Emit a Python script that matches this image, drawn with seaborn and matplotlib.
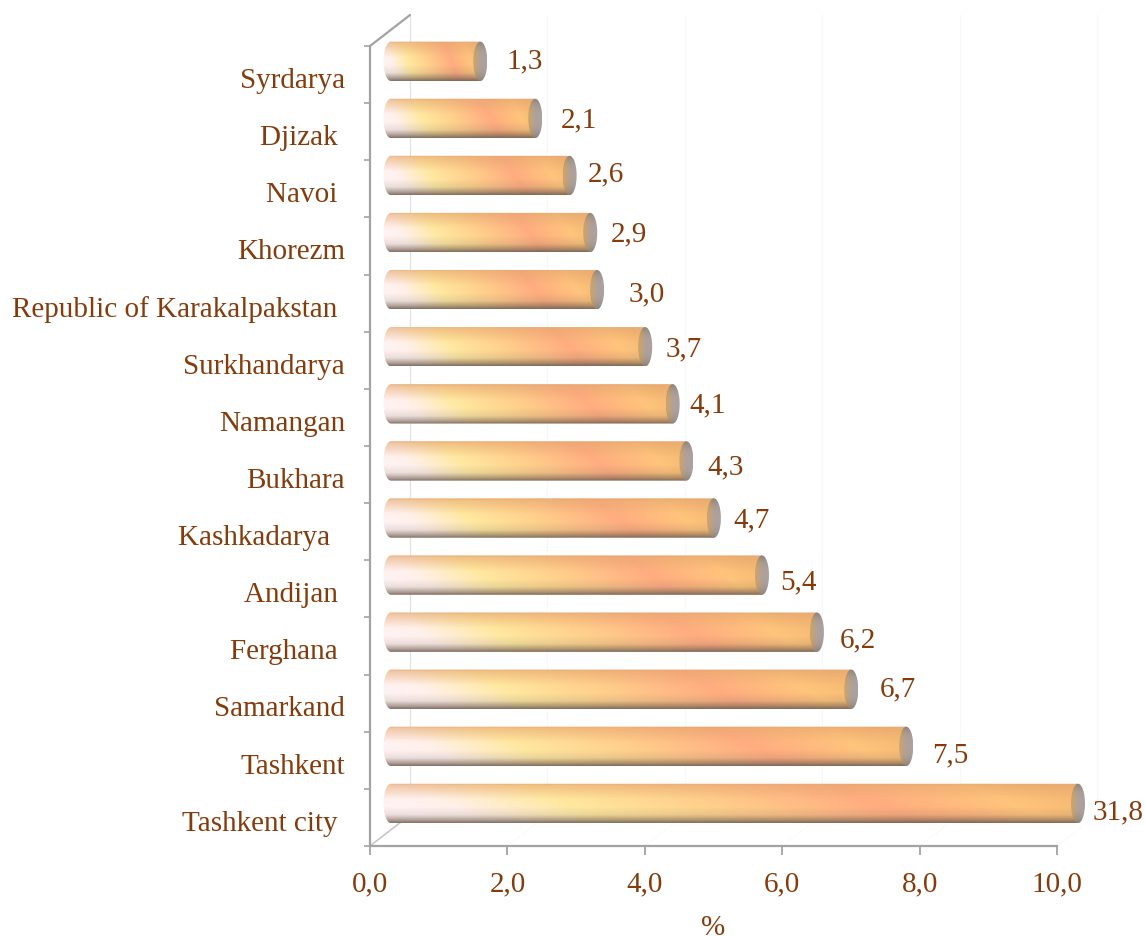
import numpy as np
import matplotlib
matplotlib.use("Agg")
import matplotlib.pyplot as plt
import matplotlib.colors as mc
from matplotlib.lines import Line2D
from matplotlib.path import Path
import seaborn as sns
import pandas as pd

regions = ["Syrdarya", "Djizak ", "Navoi ", "Khorezm", "Republic of Karakalpakstan ",
           "Surkhandarya", "Namangan", "Bukhara", "Kashkadarya  ", "Andijan ",
           "Ferghana ", "Samarkand", "Tashkent", "Tashkent city "]
shares = [1.3, 2.1, 2.6, 2.9, 3.0, 3.7, 4.1, 4.3, 4.7, 5.4, 6.2, 6.7, 7.5, 31.8]
x_ticks = [0, 2, 4, 6, 8, 10]
x_tick_labels = ["0,0", "2,0", "4,0", "6,0", "8,0", "10,0"]

# hand-placed label offsets in the original (pixels from bar end: right, down)
label_dx = [44, 44, 36, 39, 50, 38, 35, 39, 38, 36, 41, 47, 44, 40]
label_dy = [-1, 1, -2, 1, 4, 2, 1, 5, 1, 6, 7, -1, 8, 8]

W, H = 1145, 937
TEXT = "#843C0C"
AXIS = "#A3A3A3"
FONT = "Liberation Serif"
FS = 21

sns.set_theme(style="white")
plt.rcParams["font.family"] = [FONT, "DejaVu Sans"]
plt.rcParams["font.size"] = FS


def rect(left, top, right, bottom):
    return [left / W, 1 - bottom / H, (right - left) / W, (bottom - top) / H]


fig = plt.figure(figsize=(W / 100, H / 100), dpi=100, facecolor="white")
ax = fig.add_axes(rect(370, 47, 1057, 847), zorder=1)
axb = fig.add_axes(rect(391, 33.8, 1078, 833), zorder=2)
ax.patch.set_alpha(0)
axb.patch.set_alpha(0)

# ---- front axis frame
n = len(regions)
ax.set_xlim(0, 10)
ax.set_ylim(n - 0.5, -0.5)
for s in ["top", "right"]:
    ax.spines[s].set_visible(False)
for s in ["left", "bottom"]:
    ax.spines[s].set_color(AXIS)
    ax.spines[s].set_linewidth(1.6)
ax.set_xticks(x_ticks, x_tick_labels, color=TEXT, fontsize=FS)
ax.tick_params(axis="x", length=6.5, width=1.3, color=AXIS, pad=11, bottom=True)
ax.set_yticks(np.arange(n) + 0.04, regions, color=TEXT, fontsize=FS)
ax.tick_params(axis="y", which="major", length=0, pad=18)
ax.set_yticks(np.arange(n + 1) - 0.5, minor=True)
ax.tick_params(axis="y", which="minor", length=4.5, width=1.2, color=AXIS, left=True)
ax.set_xlabel("%", color=TEXT, fontsize=FS, labelpad=13)

# ---- 3-D box: depth lines and back wall
DX, DY = 40, 31
to_px = ax.transData.transform


def depth_line(x, y, color, lw, frac=1.0, ls="-"):
    px, py = to_px((x, y))
    fig.add_artist(Line2D([px / W, (px + DX * frac) / W], [py / H, (py + DY * frac) / H],
                          transform=fig.transFigure, color=color, lw=lw, ls=ls, zorder=0.5))


depth_line(0, -0.5, AXIS, 1.6)
depth_line(0, n - 0.5, "#C8C8C8", 1.2, frac=0.82)
for xv in x_ticks[1:]:
    depth_line(xv, n - 0.5, "#F4F4F4", 0.8, ls=":")
for xv in x_ticks:
    px, _ = to_px((xv, 0))
    _, top = to_px((0, -0.5))
    _, bot = to_px((0, n - 0.5))
    fig.add_artist(Line2D([(px + DX) / W] * 2, [(top + DY) / H, (bot + DY) / H],
                          transform=fig.transFigure,
                          color="#E2E2E2" if xv == 0 else "#F8F8F8", lw=0.9, zorder=0.4))

# ---- bars
df = pd.DataFrame({"region": regions, "share": shares})
sns.barplot(data=df, y="region", x="share", order=regions, orient="h", width=0.69,
            color="#FFC98A", saturation=1, ax=axb)
axb.set_xlim(0, 10)
axb.set_ylim(n - 0.5, -0.5)
axb.axis("off")

xs_stops = [0.0, 0.08, 0.25, 0.45, 0.70, 0.90, 1.0]
xs_cols = ["#FFF2F2", "#FFF0EA", "#FFE8A0", "#FFD08C", "#FFAC80", "#FFC47C", "#F6BA74"]
xs_rgb = np.array([mc.to_rgb(c) for c in xs_cols])


def body_image(h=60, w=300):
    t, x = np.mgrid[0:1:h * 1j, 0:1:w * 1j]
    u = np.clip(x + 0.13 * (0.45 - t), 0, 1)
    rgb = np.stack([np.interp(u, xs_stops, xs_rgb[:, i]) for i in range(3)], axis=-1)
    top = np.array(mc.to_rgb("#E4A46E"))
    bot = np.array(mc.to_rgb("#6E5C50"))
    m1 = np.interp(t, [0, 0.05, 0.4], [0.85, 0.55, 0.0])[..., None]
    m2 = np.interp(t, [0.6, 0.8, 0.93, 1.0], [0.0, 0.14, 0.55, 0.85])[..., None]
    rgb = rgb * (1 - m1) + top * m1
    rgb = rgb * (1 - m2) + bot * m2
    return rgb


def cap_image(h=40, w=20):
    t, x = np.mgrid[0:1:h * 1j, 0:1:w * 1j]
    a = np.array(mc.to_rgb("#CFA468"))
    b = np.array(mc.to_rgb("#ABA19F"))
    m = np.interp(x, [0, 0.55, 1], [0, 0.9, 1])[..., None]
    rgb = a * (1 - m) + b * m
    s = 1 - 0.2 * np.abs(2 * t - 1)[..., None] ** 3
    return rgb * s


body = body_image()
cap = cap_image()
cap_half = 7 / 68.7
left_half = 7.5 / 68.7
theta = np.linspace(0, 2 * np.pi, 60)
arc = np.linspace(-np.pi / 2, np.pi / 2, 40)

for patch in axb.patches:
    val = patch.get_width()
    y0, hgt = patch.get_y(), patch.get_height()
    w = min(val, 10)
    yc, ry = y0 + hgt / 2, hgt / 2
    pts = np.vstack([[(w, yc - ry)],
                     np.c_[-left_half * np.cos(arc), yc + ry * np.sin(arc)],
                     [(w, yc + ry)], [(w, yc - ry)]])
    patch.set_visible(False)
    im = axb.imshow(body, extent=(-left_half, w, y0 + hgt, y0), aspect="auto",
                    interpolation="bilinear", zorder=3)
    im.set_clip_box(fig.bbox)
    im.set_clip_path(Path(pts), axb.transData)
    cpts = np.c_[w + cap_half * np.cos(theta), yc + ry * np.sin(theta)]
    ic = axb.imshow(cap, extent=(w - cap_half, w + cap_half, y0 + hgt, y0), aspect="auto",
                    interpolation="bilinear", zorder=4)
    ic.set_clip_box(fig.bbox)
    ic.set_clip_path(Path(cpts), axb.transData)

axb.set_xlim(0, 10)
axb.set_ylim(n - 0.5, -0.5)

# ---- value labels
for i, v in enumerate(shares):
    axb.annotate(f"{v:.1f}".replace(".", ","), xy=(min(v, 10), i),
                 xytext=(label_dx[i] * 0.72, -label_dy[i] * 0.72), textcoords="offset points",
                 ha="center", va="center", color=TEXT, fontsize=FS, annotation_clip=False)

fig.savefig("out.png", dpi=100, facecolor="white")
